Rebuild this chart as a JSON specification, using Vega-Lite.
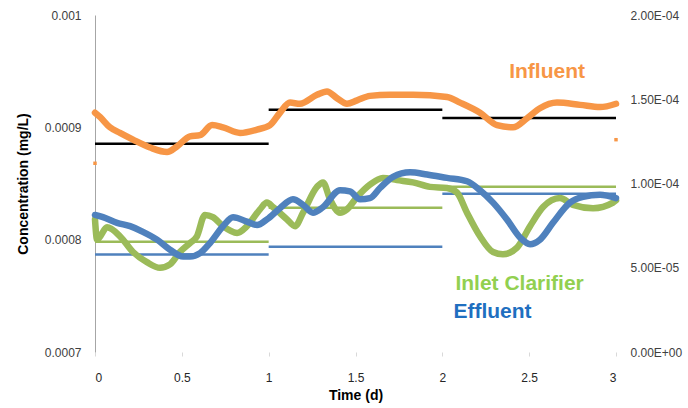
{
  "$schema": "https://vega.github.io/schema/vega-lite/v6.json",
  "width": 521,
  "height": 337,
  "autosize": {"type": "none"},
  "padding": {"left": 95, "top": 15, "right": 72, "bottom": 56},
  "background": "white",
  "config": {"view": {"stroke": null}, "font": "Liberation Sans"},
  "datasets": {
    "influent": [
      {"t": 0, "c": 0.000913}, {"t": 0.03, "c": 0.000909}, {"t": 0.086, "c": 0.0009}, {"t": 0.144, "c": 0.000895},
      {"t": 0.219, "c": 0.000889}, {"t": 0.317, "c": 0.000882}, {"t": 0.415, "c": 0.000878}, {"t": 0.472, "c": 0.000883},
      {"t": 0.547, "c": 0.000892}, {"t": 0.605, "c": 0.000893}, {"t": 0.674, "c": 0.000902}, {"t": 0.737, "c": 0.0009},
      {"t": 0.835, "c": 0.000895}, {"t": 0.933, "c": 0.000898}, {"t": 1.008, "c": 0.000902}, {"t": 1.065, "c": 0.000913},
      {"t": 1.123, "c": 0.000922}, {"t": 1.18, "c": 0.000921}, {"t": 1.278, "c": 0.000929}, {"t": 1.336, "c": 0.000932},
      {"t": 1.393, "c": 0.000926}, {"t": 1.451, "c": 0.000921}, {"t": 1.509, "c": 0.000924}, {"t": 1.583, "c": 0.000928},
      {"t": 1.699, "c": 0.000929}, {"t": 1.831, "c": 0.000929}, {"t": 2.027, "c": 0.000927}, {"t": 2.102, "c": 0.000922},
      {"t": 2.217, "c": 0.000913}, {"t": 2.315, "c": 0.000902}, {"t": 2.407, "c": 0.0009}, {"t": 2.487, "c": 0.000908},
      {"t": 2.562, "c": 0.000917}, {"t": 2.66, "c": 0.000922}, {"t": 2.793, "c": 0.00092}, {"t": 2.908, "c": 0.000918},
      {"t": 3.0, "c": 0.000921}
    ],
    "clarifier": [
      {"t": 0, "c": 0.000818}, {"t": 0.012, "c": 0.0008}, {"t": 0.069, "c": 0.000811}, {"t": 0.144, "c": 0.000803},
      {"t": 0.219, "c": 0.000789}, {"t": 0.299, "c": 0.00078}, {"t": 0.374, "c": 0.000775}, {"t": 0.432, "c": 0.000778},
      {"t": 0.489, "c": 0.000789}, {"t": 0.547, "c": 0.000797}, {"t": 0.587, "c": 0.000803}, {"t": 0.633, "c": 0.000822},
      {"t": 0.679, "c": 0.00082}, {"t": 0.737, "c": 0.000812}, {"t": 0.818, "c": 0.000806}, {"t": 0.875, "c": 0.000812},
      {"t": 0.95, "c": 0.000827}, {"t": 0.99, "c": 0.000833}, {"t": 1.025, "c": 0.000829}, {"t": 1.106, "c": 0.000818},
      {"t": 1.152, "c": 0.000812}, {"t": 1.198, "c": 0.000824}, {"t": 1.278, "c": 0.000847}, {"t": 1.313, "c": 0.000851},
      {"t": 1.353, "c": 0.000836}, {"t": 1.411, "c": 0.000824}, {"t": 1.451, "c": 0.000827}, {"t": 1.509, "c": 0.000838},
      {"t": 1.583, "c": 0.000849}, {"t": 1.658, "c": 0.000855}, {"t": 1.739, "c": 0.000853}, {"t": 1.831, "c": 0.000851},
      {"t": 1.929, "c": 0.000847}, {"t": 2.027, "c": 0.000846}, {"t": 2.084, "c": 0.000842}, {"t": 2.142, "c": 0.000824},
      {"t": 2.217, "c": 0.000803}, {"t": 2.292, "c": 0.000789}, {"t": 2.349, "c": 0.000787}, {"t": 2.43, "c": 0.000793},
      {"t": 2.505, "c": 0.000812}, {"t": 2.58, "c": 0.000829}, {"t": 2.677, "c": 0.000837}, {"t": 2.752, "c": 0.000831},
      {"t": 2.868, "c": 0.000828}, {"t": 2.983, "c": 0.000833}, {"t": 3.0, "c": 0.000835}
    ],
    "effluent": [
      {"t": 0, "c": 0.000822}, {"t": 0.046, "c": 0.00082}, {"t": 0.127, "c": 0.000815}, {"t": 0.202, "c": 0.000812},
      {"t": 0.276, "c": 0.000807}, {"t": 0.357, "c": 0.0008}, {"t": 0.432, "c": 0.000791}, {"t": 0.507, "c": 0.000785},
      {"t": 0.547, "c": 0.000785}, {"t": 0.605, "c": 0.000788}, {"t": 0.662, "c": 0.000797}, {"t": 0.737, "c": 0.000812},
      {"t": 0.795, "c": 0.00082}, {"t": 0.875, "c": 0.000816}, {"t": 0.933, "c": 0.000813}, {"t": 0.99, "c": 0.000818},
      {"t": 1.065, "c": 0.000828}, {"t": 1.14, "c": 0.000836}, {"t": 1.198, "c": 0.000831}, {"t": 1.255, "c": 0.000824},
      {"t": 1.313, "c": 0.000829}, {"t": 1.411, "c": 0.000844}, {"t": 1.468, "c": 0.000843}, {"t": 1.526, "c": 0.000836},
      {"t": 1.583, "c": 0.000837}, {"t": 1.641, "c": 0.000846}, {"t": 1.716, "c": 0.000856}, {"t": 1.814, "c": 0.00086},
      {"t": 1.912, "c": 0.000858}, {"t": 2.027, "c": 0.000855}, {"t": 2.142, "c": 0.000852}, {"t": 2.217, "c": 0.000844},
      {"t": 2.292, "c": 0.000833}, {"t": 2.372, "c": 0.000818}, {"t": 2.447, "c": 0.000802}, {"t": 2.505, "c": 0.000796},
      {"t": 2.562, "c": 0.0008}, {"t": 2.637, "c": 0.000815}, {"t": 2.735, "c": 0.000833}, {"t": 2.81, "c": 0.000838},
      {"t": 2.908, "c": 0.00084}, {"t": 3.0, "c": 0.000837}
    ],
    "averages": [
      {"t0": 0, "t1": 1, "c": 0.0007982, "s": "Inlet Clarifier avg"},
      {"t0": 1, "t1": 2, "c": 0.0008284, "s": "Inlet Clarifier avg"},
      {"t0": 2, "t1": 3, "c": 0.0008471, "s": "Inlet Clarifier avg"},
      {"t0": 0, "t1": 1, "c": 0.0007867, "s": "Effluent avg"},
      {"t0": 1, "t1": 2, "c": 0.0007938, "s": "Effluent avg"},
      {"t0": 2, "t1": 3, "c": 0.0008409, "s": "Effluent avg"},
      {"t0": 0, "t1": 1, "c": 0.0008853, "s": "Influent avg"},
      {"t0": 1, "t1": 2, "c": 0.0009156, "s": "Influent avg"},
      {"t0": 2, "t1": 3, "c": 0.0009084, "s": "Influent avg"}
    ],
    "markers": [
      {"t": 0, "c": 0.000868},
      {"t": 3, "c": 0.000889}
    ],
    "labels": [
      {"t": 2.603, "c": 0.000944, "label": "Influent", "s": "Influent"},
      {"t": 2.445, "c": 0.0007556, "label": "Inlet Clarifier", "s": "Inlet Clarifier"},
      {"t": 2.289, "c": 0.00073, "label": "Effluent", "s": "Effluent"}
    ],
    "rightaxis": [{"v": 0}, {"v": 0.0002}]
  },
  "layer": [
    {
      "layer": [
        {
          "data": {"name": "averages"},
          "mark": {"type": "rule"},
          "encoding": {
            "x": {
              "field": "t0", "type": "quantitative",
              "scale": {"domain": [0, 3], "nice": false},
              "axis": {
                "values": [0, 0.5, 1, 1.5, 2, 2.5, 3], "format": "~g", "grid": false, "domain": false,
                "ticks": true, "tickColor": "#d9d9d9", "tickSize": 4,
                "labelPadding": 16, "labelFontSize": 12, "labelColor": "#262626",
                "title": "Time (d)", "titleFontSize": 14, "titleFontWeight": "bold", "titleColor": "#000000", "titlePadding": 5
              }
            },
            "x2": {"field": "t1"},
            "y": {
              "field": "c", "type": "quantitative",
              "scale": {"domain": [0.0007, 0.001], "nice": false, "zero": false},
              "axis": {
                "values": [0.0007, 0.0008, 0.0009, 0.001], "format": "~g", "grid": false, "ticks": false,
                "domain": true, "domainColor": "#a6a6a6", "domainWidth": 1,
                "labelPadding": 14, "labelFontSize": 12, "labelColor": "#404040",
                "title": "Concentration (mg/L)", "titleFontSize": 14, "titleFontWeight": "bold", "titleColor": "#000000", "titlePadding": 14
              }
            },
            "color": {"field": "s", "type": "nominal", "scale": {"domain": ["Inlet Clarifier avg", "Effluent avg", "Influent avg"], "range": ["#9BBB59", "#4F81BD", "#000000"]}, "legend": null},
            "strokeWidth": {"field": "s", "type": "nominal", "scale": {"domain": ["Inlet Clarifier avg", "Effluent avg", "Influent avg"], "range": [2.5, 2.5, 3.2]}, "legend": null}
          }
        },
        {
          "data": {"name": "clarifier"},
          "mark": {"type": "line", "color": "#9BBB59", "strokeWidth": 6.5, "interpolate": "monotone", "strokeCap": "round", "strokeJoin": "round"},
          "encoding": {"x": {"field": "t", "type": "quantitative"}, "y": {"field": "c", "type": "quantitative"}}
        },
        {
          "data": {"name": "effluent"},
          "mark": {"type": "line", "color": "#4F81BD", "strokeWidth": 6.5, "interpolate": "monotone", "strokeCap": "round", "strokeJoin": "round"},
          "encoding": {"x": {"field": "t", "type": "quantitative"}, "y": {"field": "c", "type": "quantitative"}}
        },
        {
          "data": {"name": "influent"},
          "mark": {"type": "line", "color": "#F79646", "strokeWidth": 6.5, "interpolate": "monotone", "strokeCap": "round", "strokeJoin": "round"},
          "encoding": {"x": {"field": "t", "type": "quantitative"}, "y": {"field": "c", "type": "quantitative"}}
        },
        {
          "data": {"name": "markers"},
          "mark": {"type": "point", "shape": "square", "filled": true, "size": 12, "color": "#F79646", "opacity": 1},
          "encoding": {"x": {"field": "t", "type": "quantitative"}, "y": {"field": "c", "type": "quantitative"}}
        },
        {
          "data": {"name": "labels"},
          "mark": {"type": "text", "fontSize": 21, "fontWeight": "bold", "align": "center", "baseline": "alphabetic"},
          "encoding": {
            "x": {"field": "t", "type": "quantitative"},
            "y": {"field": "c", "type": "quantitative"},
            "text": {"field": "label"},
            "color": {"field": "s", "type": "nominal", "scale": {"domain": ["Influent", "Inlet Clarifier", "Effluent"], "range": ["#F79646", "#92D050", "#1F6FC0"]}, "legend": null}
          }
        }
      ],
      "resolve": {"scale": {"color": "independent", "strokeWidth": "independent"}}
    },
    {
      "data": {"name": "rightaxis"},
      "mark": {"type": "rule", "opacity": 0},
      "encoding": {
        "y": {
          "field": "v", "type": "quantitative",
          "scale": {"domain": [0, 0.0002], "nice": false},
          "axis": {
            "orient": "right", "values": [0, 0.00005, 0.0001, 0.00015, 0.0002],
            "labelExpr": "datum.value < 0.00001 ? '0.00E+00' : datum.value < 0.00006 ? '5.00E-05' : datum.value < 0.00011 ? '1.00E-04' : datum.value < 0.00016 ? '1.50E-04' : '2.00E-04'",
            "grid": false, "ticks": false, "domain": false, "labelPadding": 14, "labelFontSize": 12, "labelColor": "#404040", "title": null
          }
        }
      }
    }
  ],
  "resolve": {"scale": {"y": "independent"}}
}
